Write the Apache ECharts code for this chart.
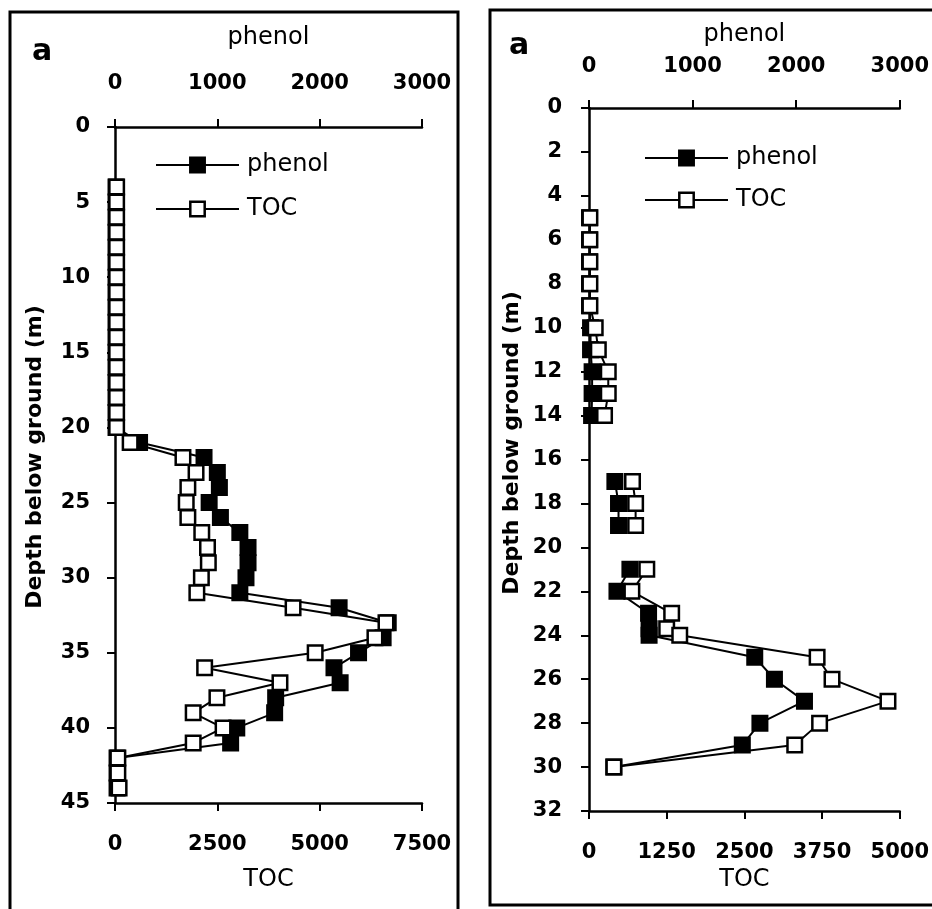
<!DOCTYPE html>
<html>
<head>
<meta charset="utf-8">
<script src="https://cdn.jsdelivr.net/npm/echarts@6/dist/echarts.min.js"></script>
<style>
  html, body { margin: 0; padding: 0; background: #fff; }
  #chart { width: 932px; height: 909px; }
</style>
</head>
<body>
<div id="chart"></div>
<script>
// Profile A: depth (m), phenol and TOC concentrations
const depthA = [4,5,6,7,8,9,10,11,12,13,14,15,16,17,18,19,20,21,22,23,24,25,26,27,28,29,30,31,32,33,34,35,36,37,38,39,40,41,42,43,44];
const phenolA = [10,10,10,10,10,10,10,10,10,10,10,10,10,10,10,10,10,240,870,1000,1020,920,1030,1220,1300,1300,1280,1220,2190,2670,2620,2380,2140,2200,1570,1560,1190,1130,20,20,20];
const tocA = [40,40,40,40,40,40,40,40,40,40,40,40,40,40,40,40,40,370,1660,1980,1780,1740,1780,2120,2260,2280,2110,2000,4350,6620,6350,4890,2190,4030,2490,1910,2640,1910,70,70,100];

// Profile B ('-' marks depths without samples, which breaks the line)
const depthB = [5,6,7,8,9,10,11,12,13,14,16,17,18,19,20,21,22,23,23.7,24,25,26,27,28,29,30];
const phenolB = [5,5,5,5,5,15,15,30,30,25,'-',250,285,285,'-',395,270,575,580,580,1600,1790,2080,1650,1480,240];
const tocB = [15,15,15,15,15,100,150,310,310,250,'-',700,750,750,'-',930,690,1330,1250,1460,3670,3910,4810,3710,3310,400];

// Axis ranges and steps
const depthTicksA = { max: 45, step: 5 };
const depthTicksB = { max: 32, step: 2 };
const phenolScale = { max: 3000, step: 1000 };
const tocScaleA = { max: 7500, step: 2500 };
const tocScaleB = { max: 5000, step: 1250 };

const pairs = (vals, depths) => depths.map((d, i) => [vals[i], vals[i] === '-' ? '-' : d]);

const FONT = 'DejaVu Sans';
const tickFont = { color: '#000', fontFamily: FONT, fontWeight: 'bold', fontSize: 21, formatter: v => String(v) };
const nameFont = { color: '#000', fontFamily: FONT, fontSize: 24 };
const axisLine = { show: true, onZero: false, lineStyle: { color: '#000', width: 2.5 } };
const axisTick = { show: true, inside: false, length: 8, lineStyle: { color: '#000', width: 2 } };

function xAxisDef(grid, pos, scale, name, labelMargin, nameGap) {
  return {
    type: 'value', gridIndex: grid, position: pos,
    min: 0, max: scale.max, interval: scale.step,
    name: name, nameLocation: 'middle', nameGap: nameGap, nameTextStyle: nameFont,
    axisLine: axisLine, axisTick: axisTick, splitLine: { show: false },
    axisLabel: Object.assign({ margin: labelMargin }, tickFont)
  };
}
function yAxisDef(grid, ticks, labelMargin) {
  return {
    type: 'value', gridIndex: grid, inverse: true,
    min: 0, max: ticks.max, interval: ticks.step,
    axisLine: axisLine, axisTick: axisTick, splitLine: { show: false },
    axisLabel: Object.assign({ margin: labelMargin }, tickFont)
  };
}

const lineStyle = { color: '#000', width: 2 };
function seriesDef(name, xIdx, yIdx, data, filled) {
  return {
    type: 'line', name: name, xAxisIndex: xIdx, yAxisIndex: yIdx,
    data: data, symbol: 'rect', symbolSize: 14.5, connectNulls: false,
    lineStyle: lineStyle,
    itemStyle: { color: filled ? '#000' : '#fff', borderColor: '#000', borderWidth: 2.5 },
    emphasis: { disabled: true }, z: filled ? 2 : 3
  };
}
function legendDef(left, top, gap) {
  return {
    orient: 'vertical', left: left, top: top, padding: 0,
    itemWidth: 83, itemHeight: 18, itemGap: gap,
    selectedMode: false,
    data: ['phenol', 'TOC'],
    textStyle: { color: '#000', fontFamily: FONT, fontSize: 24, padding: [0, 0, 0, 3] },
    lineStyle: { width: 2, color: '#000' },
    itemStyle: { borderWidth: 2.5, borderColor: '#000' }
  };
}
function rotatedName(x, y) {
  return {
    type: 'text', x: x, y: y, rotation: Math.PI / 2,
    style: { text: 'Depth below ground (m)', fill: '#000', font: 'bold 22px "DejaVu Sans"', align: 'center', verticalAlign: 'middle' }
  };
}
function panelTag(x, y) {
  return {
    type: 'text', x: x, y: y,
    style: { text: 'a', fill: '#000', font: 'bold 30px "DejaVu Sans"', align: 'center', verticalAlign: 'middle' }
  };
}

const chart = echarts.init(document.getElementById('chart'), null, { renderer: 'canvas' });
chart.setOption({
  animation: false,
  backgroundColor: '#fff',
  grid: [
    { left: 115, top: 127, width: 307, height: 676 },
    { left: 589, top: 108, width: 311, height: 703 }
  ],
  xAxis: [
    xAxisDef(0, 'top', phenolScale, 'phenol', 33, 77),
    xAxisDef(0, 'bottom', tocScaleA, 'TOC', 31, 65),
    xAxisDef(1, 'top', phenolScale, 'phenol', 31, 61),
    xAxisDef(1, 'bottom', tocScaleB, 'TOC', 31, 57)
  ],
  yAxis: [
    yAxisDef(0, depthTicksA, 25),
    yAxisDef(1, depthTicksB, 27)
  ],
  legend: [legendDef(155, 153, 20), legendDef(644, 146, 18)],
  series: [
    seriesDef('phenol', 0, 0, pairs(phenolA, depthA), true),
    seriesDef('TOC', 1, 0, pairs(tocA, depthA), false),
    seriesDef('phenol', 2, 1, pairs(phenolB, depthB), true),
    seriesDef('TOC', 3, 1, pairs(tocB, depthB), false)
  ],
  graphic: [
    { type: 'rect', shape: { x: 10, y: 12, width: 448, height: 920 }, style: { fill: 'none', stroke: '#000', lineWidth: 3 } },
    { type: 'rect', shape: { x: 490, y: 10, width: 460, height: 895 }, style: { fill: 'none', stroke: '#000', lineWidth: 3 } },
    panelTag(42, 52),
    panelTag(519, 46),
    rotatedName(35, 457),
    rotatedName(512, 443)
  ]
});
</script>
</body>
</html>
